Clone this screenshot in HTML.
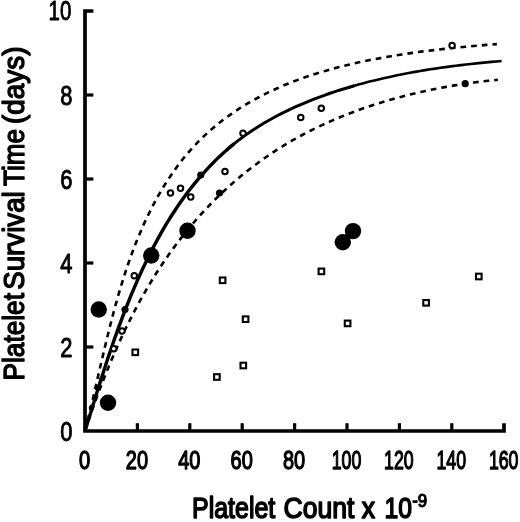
<!DOCTYPE html>
<html><head><meta charset="utf-8"><title>Platelet Survival</title>
<style>
html,body{margin:0;padding:0;background:#fff;}
body{width:520px;height:522px;overflow:hidden;}
svg{display:block;}
text{font-family:"Liberation Sans",Arial,Helvetica,sans-serif;fill:#000;}
</style></head><body>
<svg width="520" height="522" viewBox="0 0 520 522">
<rect width="520" height="522" fill="#fff"/>

<path d="M93.4,11 H85 V431 H504 V423.2" fill="none" stroke="#000" stroke-width="3.7" stroke-linejoin="miter"/>
<line x1="85" x2="93.4" y1="347.0" y2="347.0" stroke="#000" stroke-width="3.2"/>
<line x1="85" x2="93.4" y1="263.0" y2="263.0" stroke="#000" stroke-width="3.2"/>
<line x1="85" x2="93.4" y1="179.0" y2="179.0" stroke="#000" stroke-width="3.2"/>
<line x1="85" x2="93.4" y1="95.0" y2="95.0" stroke="#000" stroke-width="3.2"/>
<line y1="431" y2="423.2" x1="137.4" x2="137.4" stroke="#000" stroke-width="3.2"/>
<line y1="431" y2="423.2" x1="189.8" x2="189.8" stroke="#000" stroke-width="3.2"/>
<line y1="431" y2="423.2" x1="242.2" x2="242.2" stroke="#000" stroke-width="3.2"/>
<line y1="431" y2="423.2" x1="294.6" x2="294.6" stroke="#000" stroke-width="3.2"/>
<line y1="431" y2="423.2" x1="347.0" x2="347.0" stroke="#000" stroke-width="3.2"/>
<line y1="431" y2="423.2" x1="399.4" x2="399.4" stroke="#000" stroke-width="3.2"/>
<line y1="431" y2="423.2" x1="451.8" x2="451.8" stroke="#000" stroke-width="3.2"/>
<path d="M85.0,431.0 L86.5,426.2 L87.9,421.5 L89.4,416.7 L90.9,411.9 L92.4,407.0 L93.9,402.2 L95.4,397.3 L96.9,392.4 L98.4,387.5 L100.0,382.6 L101.6,377.7 L103.2,372.7 L104.8,367.8 L106.4,362.8 L108.0,357.9 L109.7,352.9 L111.4,348.0 L113.1,343.0 L114.8,338.1 L116.6,333.1 L118.3,328.2 L120.2,323.3 L122.0,318.4 L123.9,313.4 L125.8,308.5 L127.7,303.7 L129.6,298.8 L131.6,293.9 L133.7,289.1 L135.7,284.3 L137.8,279.5 L140.0,274.7 L142.1,270.0 L144.4,265.2 L146.6,260.5 L148.9,255.9 L151.2,251.2 L153.6,246.6 L156.1,242.1 L158.5,237.6 L161.0,233.1 L163.6,228.6 L166.2,224.2 L168.9,219.8 L171.6,215.5 L174.4,211.2 L177.2,207.0 L180.1,202.8 L183.0,198.7 L186.0,194.6 L189.0,190.5 L192.1,186.6 L195.3,182.7 L198.5,178.8 L201.8,175.0 L205.1,171.3 L208.5,167.6 L212.0,164.0 L215.5,160.4 L219.1,156.9 L222.8,153.5 L226.5,150.2 L230.3,146.9 L234.2,143.7" fill="none" stroke="#000" stroke-width="3.4"/>
<path d="M226.5,150.2 L230.3,146.9 L234.2,143.7 L238.1,140.6 L242.1,137.6 L246.2,134.6 L250.4,131.7 L254.6,128.9 L258.9,126.2 L263.3,123.5 L267.7,121.0 L272.2,118.5 L276.7,116.0 L281.3,113.6 L285.9,111.3 L290.6,109.1 L295.3,106.9 L300.1,104.8 L304.9,102.8 L309.7,100.8 L314.6,98.9 L319.5,97.1 L324.4,95.3 L329.3,93.5 L334.3,91.9 L339.3,90.2 L344.3,88.7 L349.3,87.2 L354.3,85.7" fill="none" stroke="#000" stroke-width="3.0"/>
<path d="M349.3,87.2 L354.3,85.7 L359.4,84.3 L364.4,82.9 L369.5,81.6 L374.5,80.4 L379.6,79.2 L384.6,78.0 L389.7,76.9 L394.8,75.8 L399.8,74.7 L404.9,73.7 L410.0,72.8 L415.1,71.9 L420.2,71.0 L425.2,70.1 L430.3,69.3 L435.4,68.6 L440.5,67.8 L445.6,67.1 L450.7,66.4 L455.8,65.8 L460.9,65.1 L466.0,64.5 L471.1,64.0 L476.2,63.4 L481.3,62.9 L486.3,62.4 L491.4,61.9 L496.5,61.5 L501.6,61.0" fill="none" stroke="#000" stroke-width="2.6"/>
<path d="M85.0,431.0 L86.3,425.9 L87.6,420.9 L88.8,415.8 L90.1,410.6 L91.3,405.5 L92.5,400.3 L93.7,395.2 L94.9,390.0 L96.1,384.8 L97.3,379.6 L98.5,374.4 L99.7,369.2 L100.9,363.9 L102.2,358.7 L103.4,353.4 L104.6,348.2 L105.9,343.0 L107.2,337.7 L108.4,332.5 L109.7,327.2 L111.1,322.0 L112.4,316.7 L113.8,311.5 L115.2,306.3 L116.7,301.1 L118.1,295.9 L119.7,290.7 L121.2,285.5 L122.8,280.4 L124.4,275.2 L126.1,270.1 L127.8,265.0 L129.6,259.9 L131.4,254.8 L133.3,249.8 L135.2,244.7 L137.2,239.7 L139.3,234.8 L141.4,229.8 L143.5,224.9 L145.8,220.0 L148.1,215.2 L150.5,210.4 L152.9,205.6 L155.4,200.9 L158.0,196.2 L160.7,191.6 L163.4,187.0 L166.2,182.5 L169.1,178.1 L172.1,173.7 L175.1,169.4 L178.2,165.1 L181.4,160.9 L184.7,156.8 L188.1,152.8 L191.6,148.8 L195.1,145.0 L198.8,141.2 L202.5,137.5 L206.4,133.9 L210.3,130.3 L214.3,126.9 L218.4,123.6 L222.6,120.3 L226.8,117.2 L231.1,114.1 L235.5,111.1 L239.9,108.2 L244.4,105.4 L249.0,102.7 L253.6,100.1 L258.3,97.5 L263.0,95.0 L267.8,92.7 L272.6,90.4 L277.4,88.2 L282.3,86.0 L287.2,84.0 L292.2,82.0 L297.2,80.1 L302.2,78.3 L307.2,76.5 L312.3,74.8 L317.4,73.2 L322.6,71.7 L327.7,70.2 L332.9,68.7 L338.1,67.3 L343.3,66.0 L348.6,64.7 L353.8,63.5 L359.1,62.3 L364.4,61.2 L369.7,60.1 L375.0,59.1 L380.4,58.1 L385.7,57.1 L391.0,56.2 L396.4,55.3 L401.7,54.5 L407.1,53.7 L412.4,52.9 L417.8,52.1 L423.1,51.4 L428.5,50.8 L433.8,50.1 L439.1,49.5 L444.5,48.9 L449.8,48.3 L455.1,47.8 L460.3,47.3 L465.6,46.8 L470.9,46.3 L476.1,45.8 L481.3,45.4 L486.5,44.9 L491.7,44.5 L496.9,44.1" fill="none" stroke="#000" stroke-width="2.6" stroke-dasharray="5.7 5"/>
<path d="M85.0,431.0 L86.5,426.4 L88.1,421.7 L89.7,417.1 L91.3,412.4 L92.9,407.8 L94.6,403.2 L96.3,398.6 L98.0,394.0 L99.7,389.4 L101.5,384.8 L103.3,380.2 L105.1,375.6 L106.9,371.0 L108.8,366.5 L110.7,361.9 L112.6,357.4 L114.5,352.9 L116.5,348.4 L118.5,343.9 L120.6,339.4 L122.6,335.0 L124.7,330.5 L126.9,326.1 L129.1,321.7 L131.3,317.4 L133.5,313.0 L135.8,308.7 L138.1,304.4 L140.4,300.1 L142.8,295.8 L145.3,291.5 L147.7,287.3 L150.2,283.1 L152.7,279.0 L155.3,274.8 L157.9,270.7 L160.6,266.6 L163.3,262.6 L166.0,258.6 L168.8,254.6 L171.6,250.6 L174.5,246.7 L177.4,242.8 L180.4,238.9 L183.4,235.1 L186.4,231.3 L189.5,227.6 L192.6,223.9 L195.8,220.2 L199.0,216.5 L202.3,212.9 L205.6,209.4 L208.9,205.9 L212.3,202.4 L215.7,198.9 L219.2,195.5 L222.7,192.2 L226.3,188.9 L229.9,185.6 L233.5,182.4 L237.2,179.3 L240.9,176.1 L244.7,173.1 L248.5,170.0 L252.3,167.1 L256.2,164.2 L260.1,161.3 L264.0,158.5 L268.0,155.7 L272.0,153.0 L276.1,150.3 L280.2,147.7 L284.4,145.2 L288.5,142.7 L292.7,140.2 L297.0,137.9 L301.3,135.5 L305.6,133.2 L309.9,131.0 L314.3,128.8 L318.7,126.7 L323.1,124.6 L327.5,122.6 L332.0,120.6 L336.5,118.7 L341.1,116.8 L345.6,115.0 L350.2,113.2 L354.8,111.5 L359.4,109.8 L364.0,108.1 L368.7,106.5 L373.3,105.0 L378.0,103.5 L382.7,102.0 L387.5,100.6 L392.2,99.3 L396.9,97.9 L401.7,96.7 L406.5,95.4 L411.2,94.2 L416.0,93.1 L420.8,92.0 L425.6,90.9 L430.4,89.9 L435.3,88.9 L440.1,88.0 L444.9,87.1 L449.7,86.2 L454.6,85.4 L459.4,84.6 L464.2,83.9 L469.0,83.2 L473.9,82.5 L478.7,81.9 L483.5,81.3 L488.3,80.8 L493.1,80.3 L497.9,79.8" fill="none" stroke="#000" stroke-width="2.6" stroke-dasharray="5.7 5"/>
<circle cx="122" cy="331" r="2.75" fill="#fff" stroke="#000" stroke-width="2"/>
<circle cx="113.75" cy="348.75" r="2.75" fill="#fff" stroke="#000" stroke-width="2"/>
<circle cx="134.25" cy="275.75" r="2.75" fill="#fff" stroke="#000" stroke-width="2"/>
<circle cx="170.5" cy="193" r="2.75" fill="#fff" stroke="#000" stroke-width="2"/>
<circle cx="180.5" cy="188.25" r="2.75" fill="#fff" stroke="#000" stroke-width="2"/>
<circle cx="190.75" cy="197" r="2.75" fill="#fff" stroke="#000" stroke-width="2"/>
<circle cx="225" cy="171.4" r="2.75" fill="#fff" stroke="#000" stroke-width="2"/>
<circle cx="243" cy="133.25" r="2.75" fill="#fff" stroke="#000" stroke-width="2"/>
<circle cx="300.75" cy="117.5" r="2.75" fill="#fff" stroke="#000" stroke-width="2"/>
<circle cx="321.25" cy="108.25" r="2.75" fill="#fff" stroke="#000" stroke-width="2"/>
<circle cx="452.1" cy="45.6" r="2.75" fill="#fff" stroke="#000" stroke-width="2"/>
<circle cx="125" cy="309.5" r="3.6" fill="#000"/>
<circle cx="200.75" cy="175" r="3.6" fill="#000"/>
<circle cx="219.5" cy="193" r="3.6" fill="#000"/>
<circle cx="465.2" cy="83.7" r="3.6" fill="#000"/>
<circle cx="101.8" cy="379" r="2.5" fill="#000"/>
<circle cx="97.3" cy="387.7" r="2.5" fill="#000"/>
<circle cx="94.8" cy="397.7" r="2.5" fill="#000"/>
<circle cx="91.3" cy="407.7" r="2.5" fill="#000"/>
<circle cx="98.75" cy="309.5" r="8.2" fill="#000"/>
<circle cx="108" cy="402.7" r="8.2" fill="#000"/>
<circle cx="151.25" cy="255.5" r="8.2" fill="#000"/>
<circle cx="187.5" cy="230.75" r="8.2" fill="#000"/>
<circle cx="342.8" cy="242.3" r="8.2" fill="#000"/>
<circle cx="353" cy="231.1" r="8.2" fill="#000"/>
<rect x="132.5" y="349.5" width="5.6" height="5.6" fill="#fff" stroke="#000" stroke-width="2.1"/>
<rect x="219.8" y="277.5" width="5.6" height="5.6" fill="#fff" stroke="#000" stroke-width="2.1"/>
<rect x="242.8" y="316.4" width="5.6" height="5.6" fill="#fff" stroke="#000" stroke-width="2.1"/>
<rect x="240.5" y="362.7" width="5.6" height="5.6" fill="#fff" stroke="#000" stroke-width="2.1"/>
<rect x="214.1" y="374.2" width="5.6" height="5.6" fill="#fff" stroke="#000" stroke-width="2.1"/>
<rect x="318.6" y="268.6" width="5.6" height="5.6" fill="#fff" stroke="#000" stroke-width="2.1"/>
<rect x="344.8" y="320.6" width="5.6" height="5.6" fill="#fff" stroke="#000" stroke-width="2.1"/>
<rect x="423.3" y="300.0" width="5.6" height="5.6" fill="#fff" stroke="#000" stroke-width="2.1"/>
<rect x="476.0" y="273.7" width="5.6" height="5.6" fill="#fff" stroke="#000" stroke-width="2.1"/>
<text x="72.5" y="440.7" font-size="26.8" text-anchor="end" textLength="12.2" lengthAdjust="spacingAndGlyphs" stroke="#000" stroke-width="0.9" stroke-linejoin="round">0</text>
<text x="72.5" y="356.7" font-size="26.8" text-anchor="end" textLength="12.2" lengthAdjust="spacingAndGlyphs" stroke="#000" stroke-width="0.9" stroke-linejoin="round">2</text>
<text x="72.5" y="272.7" font-size="26.8" text-anchor="end" textLength="12.2" lengthAdjust="spacingAndGlyphs" stroke="#000" stroke-width="0.9" stroke-linejoin="round">4</text>
<text x="72.5" y="188.7" font-size="26.8" text-anchor="end" textLength="12.2" lengthAdjust="spacingAndGlyphs" stroke="#000" stroke-width="0.9" stroke-linejoin="round">6</text>
<text x="72.5" y="104.7" font-size="26.8" text-anchor="end" textLength="12.2" lengthAdjust="spacingAndGlyphs" stroke="#000" stroke-width="0.9" stroke-linejoin="round">8</text>
<text x="71.4" y="20.0" font-size="26.8" text-anchor="end" textLength="22.8" lengthAdjust="spacingAndGlyphs" stroke="#000" stroke-width="0.9" stroke-linejoin="round">10</text>
<text x="84.5" y="468.5" font-size="25.3" text-anchor="middle" textLength="11.2" lengthAdjust="spacingAndGlyphs" stroke="#000" stroke-width="1.3" stroke-linejoin="round">0</text>
<text x="136.9" y="468.5" font-size="25.3" text-anchor="middle" textLength="22.2" lengthAdjust="spacingAndGlyphs" stroke="#000" stroke-width="1.3" stroke-linejoin="round">20</text>
<text x="189.3" y="468.5" font-size="25.3" text-anchor="middle" textLength="22.2" lengthAdjust="spacingAndGlyphs" stroke="#000" stroke-width="1.3" stroke-linejoin="round">40</text>
<text x="241.7" y="468.5" font-size="25.3" text-anchor="middle" textLength="22.2" lengthAdjust="spacingAndGlyphs" stroke="#000" stroke-width="1.3" stroke-linejoin="round">60</text>
<text x="294.1" y="468.5" font-size="25.3" text-anchor="middle" textLength="22.2" lengthAdjust="spacingAndGlyphs" stroke="#000" stroke-width="1.3" stroke-linejoin="round">80</text>
<text x="346.5" y="468.5" font-size="25.3" text-anchor="middle" textLength="29.6" lengthAdjust="spacingAndGlyphs" stroke="#000" stroke-width="1.3" stroke-linejoin="round">100</text>
<text x="398.9" y="468.5" font-size="25.3" text-anchor="middle" textLength="29.6" lengthAdjust="spacingAndGlyphs" stroke="#000" stroke-width="1.3" stroke-linejoin="round">120</text>
<text x="451.3" y="468.5" font-size="25.3" text-anchor="middle" textLength="29.6" lengthAdjust="spacingAndGlyphs" stroke="#000" stroke-width="1.3" stroke-linejoin="round">140</text>
<text x="503.7" y="468.5" font-size="25.3" text-anchor="middle" textLength="29.6" lengthAdjust="spacingAndGlyphs" stroke="#000" stroke-width="1.3" stroke-linejoin="round">160</text>
<text id="xt1" x="192.00" y="518.1" font-size="30" textLength="83.25" lengthAdjust="spacingAndGlyphs" stroke="#000" stroke-width="1.6" stroke-linejoin="round">Platelet</text>
<text id="xt2" x="283.50" y="518.1" font-size="30" textLength="70.75" lengthAdjust="spacingAndGlyphs" stroke="#000" stroke-width="1.6" stroke-linejoin="round">Count</text>
<text id="xt3" x="361.75" y="518.1" font-size="30" textLength="13.25" lengthAdjust="spacingAndGlyphs" stroke="#000" stroke-width="1.6" stroke-linejoin="round">x</text>
<text id="xt4" x="384.50" y="518.1" font-size="30" textLength="27.50" lengthAdjust="spacingAndGlyphs" stroke="#000" stroke-width="1.6" stroke-linejoin="round">10</text>
<text id="xt5" x="412.25" y="507.0" font-size="18" textLength="15.00" lengthAdjust="spacingAndGlyphs" stroke="#000" stroke-width="1.2" stroke-linejoin="round">-9</text>
<text id="yt1" transform="translate(24.4,380.50) rotate(-90)" font-size="30" textLength="87.50" lengthAdjust="spacingAndGlyphs" stroke="#000" stroke-width="1.4" stroke-linejoin="round">Platelet</text>
<text id="yt2" transform="translate(24.4,289.75) rotate(-90)" font-size="30" textLength="98.50" lengthAdjust="spacingAndGlyphs" stroke="#000" stroke-width="1.4" stroke-linejoin="round">Survival</text>
<text id="yt3" transform="translate(24.4,186.00) rotate(-90)" font-size="30" textLength="57.00" lengthAdjust="spacingAndGlyphs" stroke="#000" stroke-width="1.4" stroke-linejoin="round">Time</text>
<text id="yt4" transform="translate(24.4,124.00) rotate(-90)" font-size="30" textLength="77.50" lengthAdjust="spacingAndGlyphs" stroke="#000" stroke-width="1.4" stroke-linejoin="round">(days)</text>
</svg></body></html>
